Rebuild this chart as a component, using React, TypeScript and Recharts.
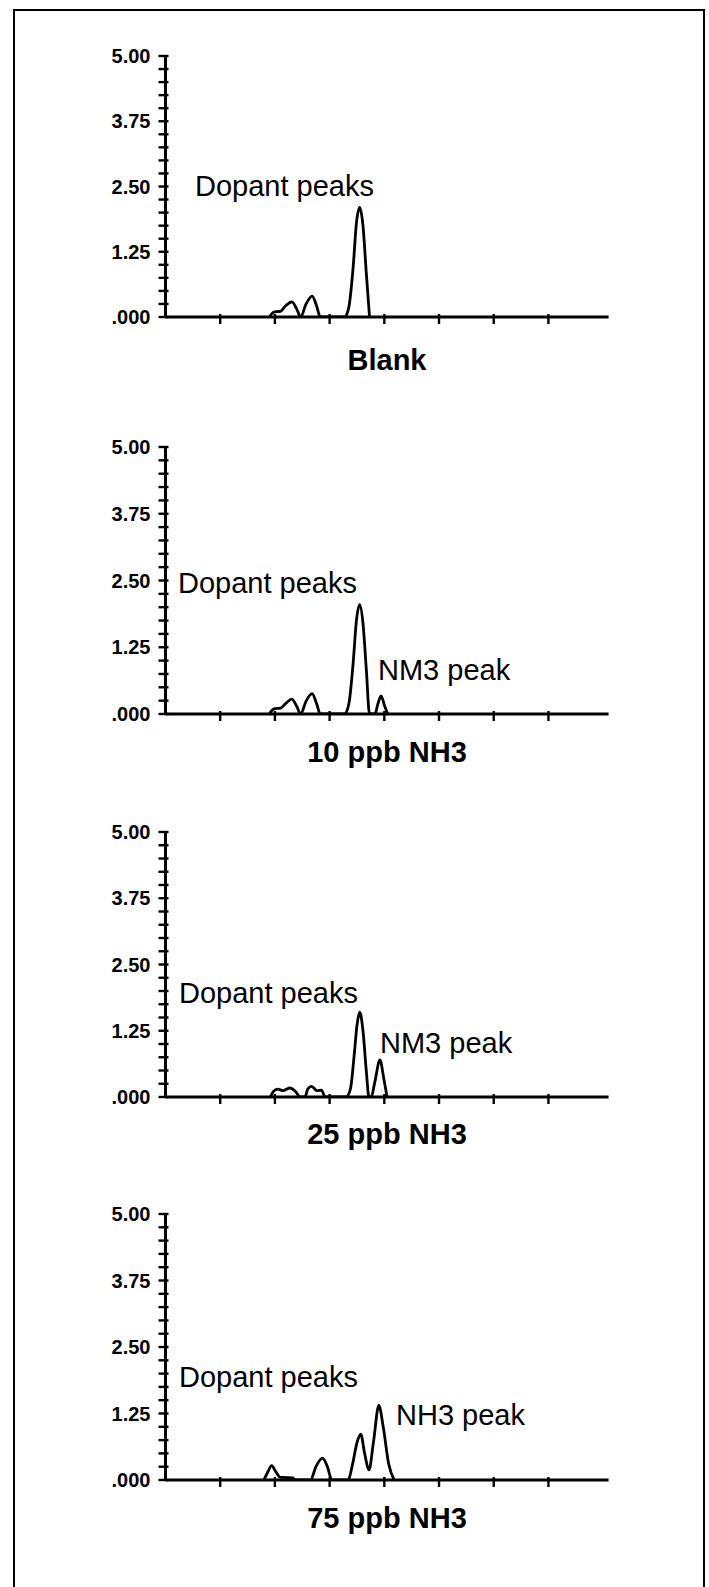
import React from 'react';
import { LineChart, Line, XAxis, YAxis } from 'recharts';

const FONT = '"Liberation Sans", Arial, Helvetica, sans-serif';

const xTicks = [1, 2, 3, 4, 5, 6, 7];
const yTicks = [0, 0.25, 0.5, 0.75, 1, 1.25, 1.5, 1.75, 2, 2.25, 2.5, 2.75, 3, 3.25, 3.5, 3.75, 4, 4.25, 4.5, 4.75, 5];
const yLabelValues = [0, 1.25, 2.5, 3.75, 5];
const yLabelTexts = ['.000', '1.25', '2.50', '3.75', '5.00'];

const blankData = [
  { x: 1.9, y: 0 }, { x: 1.94, y: 0.06 }, { x: 2.0, y: 0.1 }, { x: 2.1, y: 0.11 }, { x: 2.2, y: 0.22 },
  { x: 2.31, y: 0.29 }, { x: 2.4, y: 0.15 }, { x: 2.47, y: 0 }, { x: 2.57, y: 0.25 }, { x: 2.68, y: 0.4 },
  { x: 2.76, y: 0.22 }, { x: 2.83, y: 0 }, { x: 3.27, y: 0 }, { x: 3.35, y: 0.18 }, { x: 3.43, y: 0.95 },
  { x: 3.49, y: 1.8 }, { x: 3.55, y: 2.1 }, { x: 3.61, y: 1.75 }, { x: 3.67, y: 0.85 }, { x: 3.73, y: 0 },
];

const ppb10Data = [
  { x: 1.9, y: 0 }, { x: 1.94, y: 0.06 }, { x: 2.0, y: 0.1 }, { x: 2.1, y: 0.11 }, { x: 2.2, y: 0.2 },
  { x: 2.31, y: 0.28 }, { x: 2.4, y: 0.14 }, { x: 2.47, y: 0 }, { x: 2.57, y: 0.24 }, { x: 2.68, y: 0.38 },
  { x: 2.76, y: 0.2 }, { x: 2.83, y: 0 }, { x: 3.27, y: 0 }, { x: 3.35, y: 0.18 }, { x: 3.43, y: 0.95 },
  { x: 3.49, y: 1.75 }, { x: 3.55, y: 2.05 }, { x: 3.61, y: 1.7 }, { x: 3.67, y: 0.85 }, { x: 3.73, y: 0 },
  { x: 3.83, y: 0 }, { x: 3.88, y: 0.18 }, { x: 3.94, y: 0.34 }, { x: 4.0, y: 0.17 }, { x: 4.06, y: 0 },
];

const ppb25Data = [
  { x: 1.92, y: 0 }, { x: 1.97, y: 0.1 }, { x: 2.05, y: 0.15 }, { x: 2.15, y: 0.12 }, { x: 2.27, y: 0.17 },
  { x: 2.38, y: 0.1 }, { x: 2.46, y: 0 }, { x: 2.55, y: 0 }, { x: 2.6, y: 0.15 }, { x: 2.67, y: 0.2 },
  { x: 2.77, y: 0.12 }, { x: 2.85, y: 0.13 }, { x: 2.92, y: 0 }, { x: 3.3, y: 0 }, { x: 3.38, y: 0.15 },
  { x: 3.45, y: 0.8 }, { x: 3.5, y: 1.35 }, { x: 3.55, y: 1.6 }, { x: 3.61, y: 1.25 }, { x: 3.67, y: 0.5 },
  { x: 3.72, y: 0 }, { x: 3.76, y: 0 }, { x: 3.83, y: 0.3 }, { x: 3.92, y: 0.7 }, { x: 3.99, y: 0.35 },
  { x: 4.05, y: 0 },
];

const ppb75Data = [
  { x: 1.8, y: 0 }, { x: 1.87, y: 0.15 }, { x: 1.94, y: 0.27 }, { x: 2.02, y: 0.15 }, { x: 2.1, y: 0.05 },
  { x: 2.15, y: 0.05 }, { x: 2.33, y: 0.04 }, { x: 2.36, y: 0 }, { x: 2.65, y: 0 }, { x: 2.75, y: 0.25 },
  { x: 2.87, y: 0.41 }, { x: 2.96, y: 0.25 }, { x: 3.04, y: 0 }, { x: 3.34, y: 0 }, { x: 3.42, y: 0.3 },
  { x: 3.5, y: 0.7 }, { x: 3.57, y: 0.86 }, { x: 3.64, y: 0.5 }, { x: 3.72, y: 0.19 }, { x: 3.8, y: 0.7 },
  { x: 3.9, y: 1.4 }, { x: 3.98, y: 1.0 }, { x: 4.08, y: 0.3 }, { x: 4.18, y: 0 },
];

const panelTitles = ['Blank', '10 ppb NH3', '25 ppb NH3', '75 ppb NH3'];
const panelData = [blankData, ppb10Data, ppb25Data, ppb75Data];
const dopantLabels = ['Dopant peaks', 'Dopant peaks', 'Dopant peaks', 'Dopant peaks'];
const ammoniaLabels = ['', 'NM3 peak', 'NM3 peak', 'NH3 peak'];

// layout (pixels)
const panelTop = [56, 447, 832, 1214];
const panelBottom = [317, 714, 1097, 1480];
const titleY = [360, 752, 1134, 1518];
const dopantPos = [
  { x: 195, y: 186 },
  { x: 178, y: 583 },
  { x: 179, y: 993 },
  { x: 179, y: 1377 },
];
const ammoniaPos = [
  { x: 0, y: 0 },
  { x: 378, y: 670 },
  { x: 380, y: 1043 },
  { x: 396, y: 1415 },
];

const PLOT_LEFT = 165.5;
const PLOT_RIGHT = 608.6;

const YTick = (props: any) => {
  const { x, y, payload } = props;
  const idx = yLabelValues.indexOf(payload.value);
  return (
    <g>
      <line x1={x - 5} x2={x + 5} y1={y} y2={y} stroke="#000" strokeWidth={2.4} />
      {idx >= 0 && (
        <text
          x={x - 13}
          y={y}
          dy="0.36em"
          textAnchor="end"
          fontSize={20}
          fontWeight="bold"
          fontFamily={FONT}
          fill="#000"
        >
          {yLabelTexts[idx]}
        </text>
      )}
    </g>
  );
};

const XTick = (props: any) => {
  const { x, y } = props;
  return <line x1={x} x2={x} y1={y - 5} y2={y + 5} stroke="#000" strokeWidth={2.4} />;
};

function Panel({ i }: { i: number }) {
  const top = panelTop[i];
  const bottom = panelBottom[i];
  const mt = 20;
  const xh = 20;
  const yw = 60;
  const H = mt + (bottom - top) + xh;
  return (
    <div style={{ position: 'absolute', left: 0, top: top - mt }}>
      <LineChart
        width={709}
        height={H}
        data={panelData[i]}
        margin={{ top: mt, right: 709 - PLOT_RIGHT, bottom: 0, left: PLOT_LEFT - yw }}
      >
        <XAxis
          dataKey="x"
          type="number"
          domain={[0, 8.1]}
          ticks={xTicks}
          tick={<XTick />}
          tickLine={false}
          tickSize={0}
          height={xh}
          interval={0}
          allowDataOverflow
          axisLine={{ stroke: '#000', strokeWidth: 3 }}
        />
        <YAxis
          type="number"
          domain={[0, 5]}
          ticks={yTicks}
          tick={<YTick />}
          tickLine={false}
          tickSize={0}
          width={yw}
          interval={0}
          allowDataOverflow
          axisLine={{ stroke: '#000', strokeWidth: 3 }}
        />
        <Line
          dataKey="y"
          type="monotone"
          stroke="#000"
          strokeWidth={2.8}
          dot={false}
          activeDot={false}
          isAnimationActive={false}
        />
      </LineChart>
    </div>
  );
}

const textStyle = (x: number, cy: number, bold: boolean): React.CSSProperties => ({
  position: 'absolute',
  left: x,
  top: cy - 14.5,
  fontSize: 29,
  lineHeight: '29px',
  fontFamily: FONT,
  fontWeight: bold ? 'bold' : 'normal',
  whiteSpace: 'nowrap',
  color: '#000',
});

export default function App() {
  return (
    <div
      style={{
        position: 'absolute',
        left: 0,
        top: 0,
        width: 709,
        height: 1587,
        overflow: 'hidden',
        background: '#fff',
      }}
    >
      <div
        style={{
          position: 'absolute',
          left: 12.5,
          top: 8.5,
          width: 706 - 12.5 - 5,
          height: 1700,
          border: '2.5px solid #000',
        }}
      />
      {panelTitles.map((t, i) => (
        <React.Fragment key={t}>
          <Panel i={i} />
          <div style={textStyle(dopantPos[i].x, dopantPos[i].y, false)}>{dopantLabels[i]}</div>
          {ammoniaLabels[i] && (
            <div style={textStyle(ammoniaPos[i].x, ammoniaPos[i].y, false)}>{ammoniaLabels[i]}</div>
          )}
          <div
            style={{
              ...textStyle(0, titleY[i], true),
              width: 774,
              textAlign: 'center',
            }}
          >
            {t}
          </div>
        </React.Fragment>
      ))}
    </div>
  );
}
